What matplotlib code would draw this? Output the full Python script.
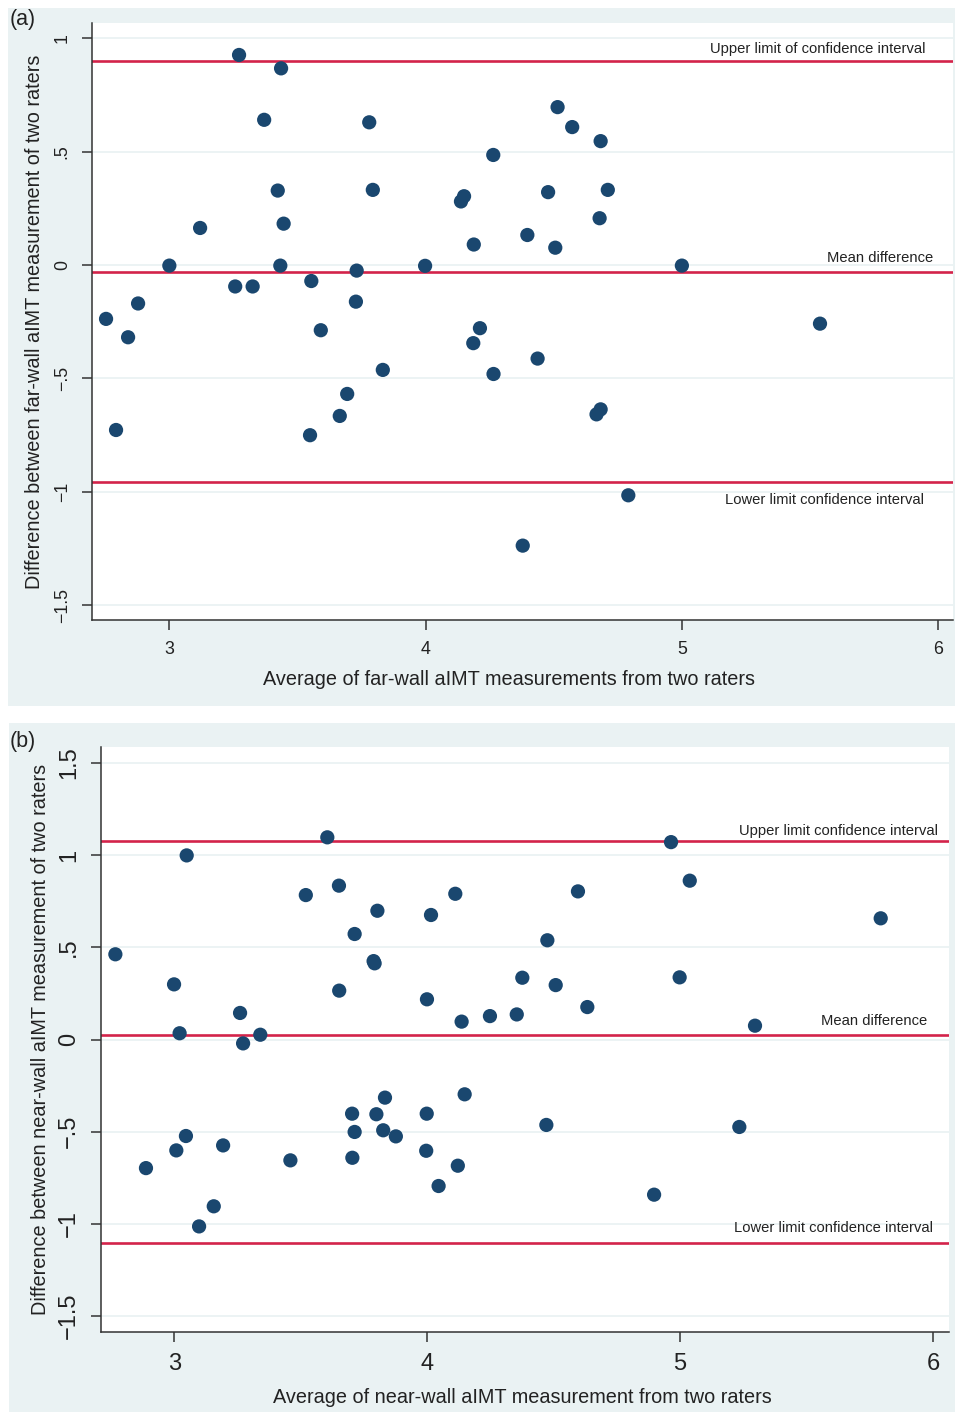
import matplotlib
matplotlib.use("Agg")
import matplotlib.pyplot as plt
from matplotlib.patches import Rectangle

plt.rcParams['font.family'] = ['Liberation Sans', 'DejaVu Sans']

# ---- panel (a): far-wall ----
far_avg = [2.753, 2.792, 2.839, 2.878, 3.000, 3.120, 3.257, 3.272, 3.325, 3.370,
           3.423, 3.436, 3.433, 3.446, 3.554, 3.549, 3.591, 3.665, 3.694, 3.728,
           3.731, 3.780, 3.794, 3.833, 3.998, 4.138, 4.150, 4.188, 4.186, 4.212,
           4.264, 4.265, 4.379, 4.397, 4.437, 4.478, 4.506, 4.515, 4.572, 4.667,
           4.683, 4.679, 4.683, 4.711, 4.791, 5.000, 5.539]
far_diff = [-0.238, -0.728, -0.319, -0.170, -0.003, 0.163, -0.095, 0.926, -0.095, 0.640,
            0.328, 0.867, -0.003, 0.182, -0.071, -0.751, -0.288, -0.666, -0.569, -0.162,
            -0.025, 0.629, 0.331, -0.463, -0.004, 0.280, 0.303, 0.090, -0.345, -0.279,
            0.485, -0.481, -1.238, 0.132, -0.413, 0.321, 0.076, 0.696, 0.608, -0.659,
            -0.637, 0.206, 0.546, 0.331, -1.016, -0.003, -0.259]
far_limits = [0.900, -0.030, -0.958]   # upper, mean, lower
far_yticks = [1, 0.5, 0, -0.5, -1, -1.5]
far_yticklabels = ['1', '.5', '0', '\u2212.5', '\u22121', '\u22121.5']

# ---- panel (b): near-wall ----
near_avg = [2.767, 3.049, 2.999, 3.021, 3.260, 3.272, 3.340, 3.520, 3.605, 3.651,
            3.652, 3.713, 3.803, 3.788, 3.792, 4.015, 4.111, 3.999, 4.136,
            4.964, 5.038, 4.596, 5.793, 4.475, 4.376, 4.508, 4.998, 4.633, 4.248,
            4.354, 5.296,
            2.888, 3.008, 3.046, 3.193, 3.156, 3.098, 3.459, 3.703, 3.713, 3.704,
            3.799, 3.833, 3.826, 3.876, 3.998, 3.996, 4.148, 4.121, 4.045,
            4.471, 5.234, 4.897]
near_diff = [0.462, 0.998, 0.299, 0.034, 0.144, -0.021, 0.026, 0.783, 1.096, 0.834,
             0.265, 0.572, 0.698, 0.425, 0.413, 0.675, 0.790, 0.218, 0.097,
             1.070, 0.861, 0.803, 0.657, 0.538, 0.335, 0.295, 0.337, 0.176, 0.127,
             0.136, 0.075,
             -0.697, -0.601, -0.523, -0.574, -0.904, -1.013, -0.655, -0.402, -0.501, -0.641,
             -0.405, -0.315, -0.492, -0.525, -0.402, -0.603, -0.297, -0.684, -0.794,
             -0.463, -0.474, -0.841]
near_limits = [1.077, 0.026, -1.105]
near_yticks = [1.5, 1, 0.5, 0, -0.5, -1, -1.5]
near_yticklabels = ['1.5', '1', '.5', '0', '\u2212.5', '\u22121', '\u22121.5']

xticks = [3, 4, 5, 6]
limit_labels_a = ['Upper limit of confidence interval', 'Mean difference',
                  'Lower limit confidence interval']
limit_labels_b = ['Upper limit confidence interval', 'Mean difference',
                  'Lower limit confidence interval']

W, H = 955, 1412
bg = '#eaf2f3'
navy = '#1a476f'
red = '#d3234a'

fig = plt.figure(figsize=(W / 100, H / 100), dpi=100)
fig.patch.set_facecolor('white')

# gray outer regions (Stata graph region)
fig.patches.append(Rectangle((8 / W, 1 - 706 / H), 947 / W, 698 / H,
                             transform=fig.transFigure, facecolor=bg, edgecolor='none', zorder=-10))
fig.patches.append(Rectangle((9 / W, 1 - 1412 / H), 946 / W, 689 / H,
                             transform=fig.transFigure, facecolor=bg, edgecolor='none', zorder=-10))


def px_axes(left, top, right, bottom):
    ax = fig.add_axes([left / W, 1 - bottom / H, (right - left) / W, (bottom - top) / H])
    ax.set_zorder(1)
    return ax


def draw_panel(ax, xs, ys, limits, labels, label_pos, yticks, yticklabels,
               xlim, ylim, xlabel, ylabel, tick_fs, label_fs, xlab_x, xlab_pad, ylab_pad):
    ax.set_facecolor('white')
    ax.set_xlim(*xlim)
    ax.set_ylim(*ylim)
    for t in yticks:
        ax.axhline(t, color=bg, lw=1.3, zorder=1)
    for v in limits:
        ax.axhline(v, color=red, lw=1.9, zorder=2)
    ax.scatter(xs, ys, s=105, color=navy, edgecolors='none', zorder=3)
    for lab, (lx, ly) in zip(labels, label_pos):
        ax.text(lx, ly, lab, ha='right', va='center', fontsize=10.6, color='#222222', zorder=4)
    ax.set_xticks(xticks)
    ax.set_xticklabels([str(x) for x in xticks])
    ax.set_yticks(yticks)
    ax.set_yticklabels(yticklabels, rotation=90, va='center')
    for s in ['top', 'right']:
        ax.spines[s].set_visible(False)
    for s in ['left', 'bottom']:
        ax.spines[s].set_color('#333333')
        ax.spines[s].set_linewidth(1.1)
    ax.tick_params(axis='both', direction='out', length=7, width=1.1, color='#333333',
                   labelsize=tick_fs, labelcolor='#222222', pad=8)
    ax.set_xlabel(xlabel, fontsize=label_fs, color='#222222', labelpad=xlab_pad)
    ax.set_ylabel(ylabel, fontsize=label_fs, color='#222222', labelpad=ylab_pad)
    ax.xaxis.label.set_x(xlab_x)


ax_a = px_axes(91.7, 23, 953, 620)
draw_panel(ax_a, far_avg, far_diff, far_limits, limit_labels_a,
           [(5.952, 0.953), (5.979, 0.031), (5.944, -1.037)],
           far_yticks, far_yticklabels, (2.697, 6.058), (-1.566, 1.067),
           'Average of far-wall aIMT measurements from two raters',
           'Difference between far-wall aIMT measurement of two raters', 12.8, 14.3,
           0.485, 8.5, 7)

ax_b = px_axes(100.7, 747.3, 949, 1332.3)
draw_panel(ax_b, near_avg, near_diff, near_limits, limit_labels_b,
           [(6.019, 1.132), (5.977, 0.100), (5.998, -1.023)],
           near_yticks, near_yticklabels, (2.709, 6.063), (-1.587, 1.584),
           'Average of near-wall aIMT measurement from two raters',
           'Difference between near-wall aIMT measurement of two raters', 17, 14.3,
           0.4967, 9.5, 6)

fig.text(10 / W, 1 - 20 / H, '(a)', fontsize=15.5, color='#222222', va='center', ha='left')
fig.text(10 / W, 1 - 741 / H, '(b)', fontsize=15.5, color='#222222', va='center', ha='left')

fig.savefig('out.png', dpi=100)
